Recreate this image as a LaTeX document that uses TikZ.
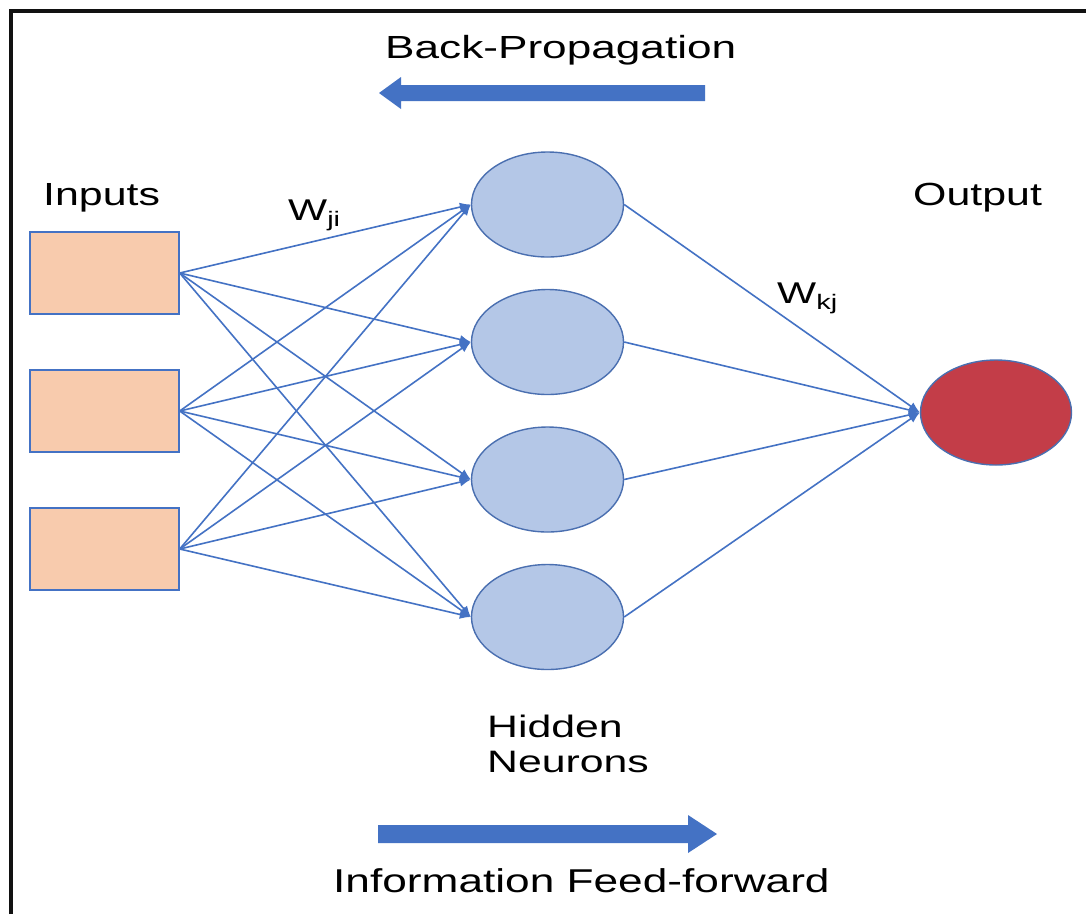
\documentclass[tikz,border=0pt]{standalone}
\usepackage{fontspec}
\setmainfont{Liberation Sans}
\usetikzlibrary{shapes.geometric,arrows.meta}
\definecolor{lineblue}{HTML}{4472C4}
\definecolor{edgeblue}{HTML}{4A6FB0}
\definecolor{hidfill}{HTML}{B4C7E7}
\definecolor{inpfill}{HTML}{F8CBAD}
\definecolor{outfill}{HTML}{C33D48}
\definecolor{framecol}{HTML}{111111}
\newcommand{\sx}[1]{\scalebox{1.38}[1]{#1}}
\tikzset{
  inbox/.style={draw=lineblue, line width=1.4pt, fill=inpfill, rectangle, minimum width=149pt, minimum height=82pt, inner sep=0pt},
  hidnode/.style={draw=edgeblue, line width=1.4pt, fill=hidfill, ellipse, minimum width=152pt, minimum height=105pt, inner sep=0pt},
  outnode/.style={draw=edgeblue, line width=1.4pt, fill=outfill, ellipse, minimum width=151pt, minimum height=105pt, inner sep=0pt},
  conn/.style={draw=lineblue, line width=1.6pt, -{Latex[length=11pt,width=9pt]}},
  lbl/.style={anchor=base west, inner sep=0pt, font=\fontsize{32}{38}\selectfont},
  bigarrow/.style={fill=lineblue, draw=none},
}
\begin{document}
\begin{tikzpicture}[x=1pt,y=-1pt]
\useasboundingbox (0,0) rectangle (1086,914);
\fill[white] (0,0) rectangle (1086,914);
% frame (top and left edges)
\draw[framecol, line width=3.5pt] (11,914) -- (11,11) -- (1086,11);

% labels
\node[lbl] (bp) at (385,58) {\sx{Back-Propagation}};
\node[lbl] (inl) at (43,205) {\scalebox{1.34}[1]{Inputs}};
\node[lbl] (outl) at (913,205) {\scalebox{1.34}[1]{Output}};
\node[lbl, font=\fontsize{31}{36}\selectfont] (hid1) at (487,737) {\sx{Hidden}};
\node[lbl, font=\fontsize{31}{36}\selectfont] (hid2) at (487,772) {\sx{Neurons}};
\node[lbl, font=\fontsize{33}{38}\selectfont] (ff) at (333,892) {\scalebox{1.34}[1]{Information Feed-forward}};
\node[lbl, font=\fontsize{30}{36}\selectfont] (wji) at (288,220) {\sx{W}\raisebox{-6pt}{\fontsize{21}{24}\selectfont\sx{ji}}};
\node[lbl, font=\fontsize{30}{36}\selectfont] (wkj) at (777,303) {\sx{W}\raisebox{-6pt}{\fontsize{21}{24}\selectfont\sx{kj}}};

% big arrows
\fill[bigarrow] (705,85) -- (401,85) -- (401,77) -- (379,93) -- (401,109) -- (401,101) -- (705,101) -- cycle;
\fill[bigarrow] (378,825) -- (688,825) -- (688,815) -- (717,834) -- (688,853) -- (688,843) -- (378,843) -- cycle;

% nodes
\node[inbox] (i1) at (104.5,273) {};
\node[inbox] (i2) at (104.5,411) {};
\node[inbox] (i3) at (104.5,549) {};
\node[hidnode] (h1) at (547.5,204.5) {};
\node[hidnode] (h2) at (547.5,342) {};
\node[hidnode] (h3) at (547.5,479.5) {};
\node[hidnode] (h4) at (547.5,617) {};
\node[outnode] (o) at (996,412.5) {};

% connectors
\foreach \i in {i1,i2,i3}{
  \foreach \h in {h1,h2,h3,h4}{
    \draw[conn] (\i.east) -- (\h.west);
  }
}
\foreach \h in {h1,h2,h3,h4}{
  \draw[conn] (\h.east) -- (o.west);
}
\end{tikzpicture}
\end{document}
